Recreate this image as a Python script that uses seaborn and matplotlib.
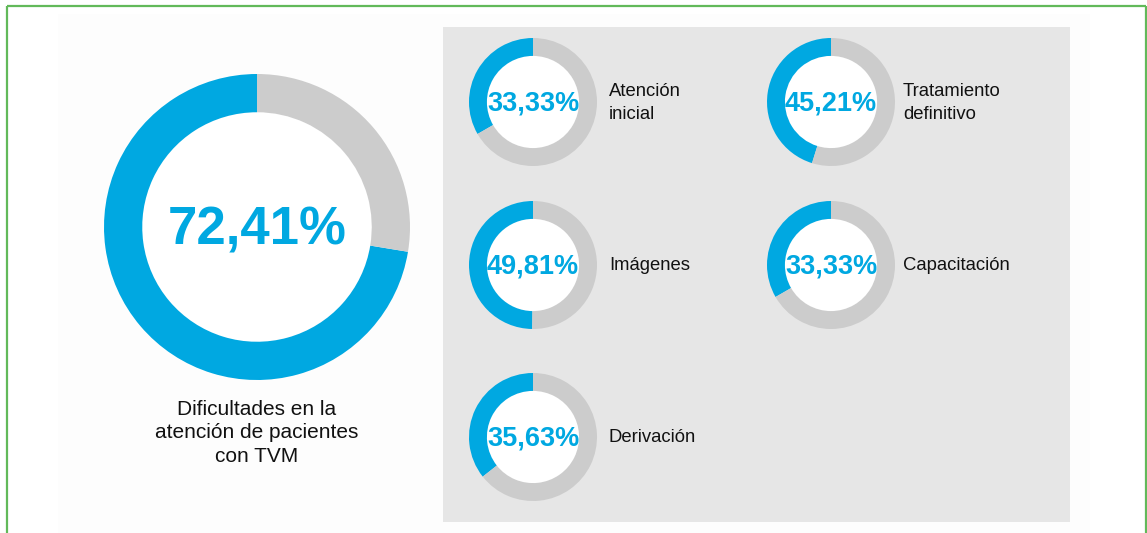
import numpy as np
import seaborn as sns
import matplotlib.pyplot as plt
from matplotlib.patches import Rectangle, Circle

# data
main_label = "Dificultades en la\natención de pacientes\ncon TVM"
main_value = 72.41

categories = ["Atención\ninicial", "Tratamiento\ndefinitivo", "Imágenes", "Capacitación", "Derivación"]
values = [33.33, 45.21, 49.81, 33.33, 35.63]

BLUE = "#00a8e1"
RING_GREY = "#cccccc"
PANEL = "#e6e6e6"
GREEN = "#62b95a"

W, H = 1147, 533

sns.set_theme(style="white")
plt.rcParams["font.family"] = ["Liberation Sans", "DejaVu Sans"]


def fmt(v):
    return f"{v:.2f}".replace(".", ",") + "%"


def px_box(x0, y0, x1, y1):
    # pixel box (top-left origin) -> figure fraction rect
    return [x0 / W, 1 - y1 / H, (x1 - x0) / W, (y1 - y0) / H]


def donut(fig, cx, cy, r, value, ring, fontsize):
    ax = fig.add_axes(px_box(cx - r, cy - r, cx + r, cy + r))
    ax.pie([value, 100 - value], colors=[BLUE, RING_GREY], startangle=90,
           counterclock=True, radius=1,
           wedgeprops=dict(width=ring, edgecolor="none", linewidth=0))
    ax.add_patch(Circle((0, 0), 1 - ring, color="white", zorder=0))
    ax.set_xlim(-1, 1)
    ax.set_ylim(-1, 1)
    ax.axis("off")
    ax.text(0, -0.02, fmt(value), ha="center", va="center", color=BLUE,
            fontsize=fontsize, fontweight="bold")
    return ax


fig = plt.figure(figsize=(W / 100, H / 100), dpi=100)
fig.patch.set_facecolor("white")

# background layer in pixel coordinates
bg = fig.add_axes([0, 0, 1, 1])
bg.set_xlim(0, W)
bg.set_ylim(H, 0)
bg.axis("off")
bg.add_patch(Rectangle((58, 14), 1032, 520, facecolor="#fdfdfd", edgecolor="none"))
bg.add_patch(Rectangle((443, 27), 627, 495, facecolor=PANEL, edgecolor="none"))
bg.plot([7, 7], [6, H], color=GREEN, lw=1.6, solid_capstyle="butt")
bg.plot([7, W - 1.5], [6, 6], color=GREEN, lw=1.6, solid_capstyle="butt")
bg.plot([W - 1.5, W - 1.5], [6, H], color=GREEN, lw=1.6, solid_capstyle="butt")

# main donut
donut(fig, 257, 227, 153, main_value, 0.25, 38)
bg.text(257, 433, main_label, ha="center", va="center", fontsize=15,
        color="#111111", linespacing=1.32)

# small donuts in the grey panel
centers = [(533, 102), (831, 102), (533, 265), (831, 265), (533, 437)]
label_dx = [76, 72, 76, 72, 76]
for (cx, cy), v, lab, dx in zip(centers, values, categories, label_dx):
    donut(fig, cx, cy, 64, v, 0.28, 19.5)
    bg.text(cx + dx, cy + 1, lab, ha="left", va="center", fontsize=13.3,
            color="#111111", linespacing=1.45)

fig.savefig("out.png", dpi=100, facecolor="white")
